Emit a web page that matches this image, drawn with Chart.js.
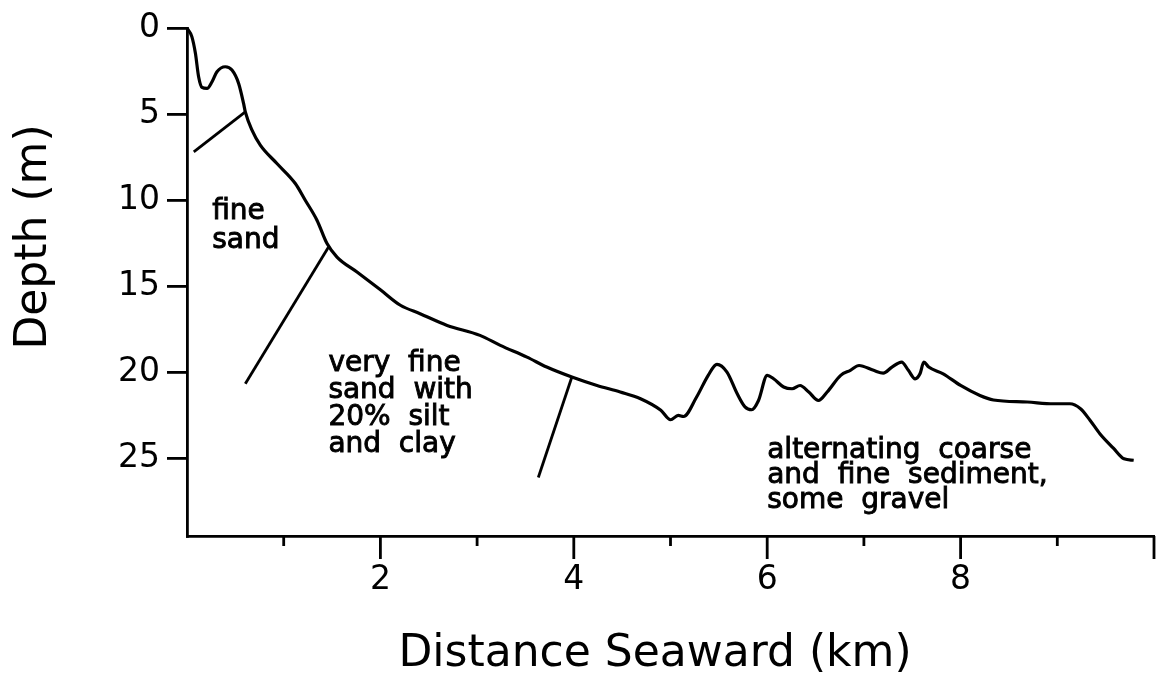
<!DOCTYPE html>
<html>
<head>
<meta charset="utf-8">
<script src="https://cdn.jsdelivr.net/npm/chart.js@4/dist/chart.umd.min.js"></script>
<style>
  html, body { margin: 0; padding: 0; background: #fff; }
  #wrap { width: 1164px; height: 685px; }
</style>
</head>
<body>
<div id="wrap"><canvas id="profile" width="1164" height="685"></canvas></div>
<script>
// profile: distance seaward (km) vs depth (m)
const distanceKm = [
  0, 0.05, 0.087, 0.12, 0.155, 0.207, 0.259, 0.31, 0.396, 0.465, 0.534, 0.585, 0.603,
  0.672, 0.758, 0.93, 1.12, 1.223, 1.344, 1.448, 1.551, 1.758, 2.0, 2.207, 2.41, 2.69,
  3.03, 3.24, 3.516, 3.72, 3.98, 4.24, 4.48, 4.69, 4.9, 5.0, 5.08, 5.135, 5.27, 5.39,
  5.48, 5.584, 5.69, 5.77, 5.84, 5.91, 6.0, 6.066, 6.17, 6.257, 6.34, 6.43, 6.53, 6.62,
  6.76, 6.86, 6.95, 7.1, 7.2, 7.29, 7.39, 7.46, 7.53, 7.58, 7.62, 7.67, 7.82, 8.0, 8.2,
  8.34, 8.69, 8.96, 9.13, 9.24, 9.34, 9.44, 9.58, 9.69, 9.79
];
const depthM = [
  0, 0.5, 1.47, 2.83, 3.45, 3.51, 3.12, 2.54, 2.25, 2.44, 3.22, 4.38, 4.87,
  5.93, 6.8, 7.87, 9.03, 10.0, 11.16, 12.52, 13.3, 14.17, 15.2, 16.1, 16.59, 17.27,
  17.85, 18.43, 19.11, 19.69, 20.27, 20.76, 21.14, 21.53, 22.2, 22.75, 22.5, 22.56, 21.43, 20.17,
  19.53, 19.98, 21.24, 22.0, 22.17, 21.63, 20.17, 20.37, 20.85, 20.95, 20.76, 21.14, 21.63, 21.14,
  20.17, 19.88, 19.6, 19.88, 20.04, 19.69, 19.4, 19.88, 20.37, 20.08, 19.4, 19.69, 20.08, 20.76, 21.34,
  21.6, 21.72, 21.82, 21.82, 22.11, 22.79, 23.56, 24.4, 25.02, 25.1
];

// boundary strokes between sediment zones [km, m] -> [km, m]
const boundaryStart = [[0.07, 7.19], [0.603, 20.66], [3.633, 26.1]];
const boundaryEnd = [[0.603, 4.87], [1.464, 12.72], [3.98, 20.27]];

// zone labels and where they sit (km, m of first line)
const zoneText = [
  ['fine', 'sand'],
  ['very  fine', 'sand  with', '20%  silt', 'and  clay'],
  ['alternating  coarse', 'and  fine  sediment,', 'some  gravel']
];
const zoneAt = [[0.26, 10.64], [1.462, 19.48], [6.0, 24.53]];

const xTickLabels = [2, 4, 6, 8];
const yTickLabels = [0, 5, 10, 15, 20, 25];
const xTitle = 'Distance Seaward (km)';
const yTitle = 'Depth (m)';

const FONT = '"DejaVu Sans", sans-serif';

const profilePts = distanceKm.map((d, i) => ({ x: d, y: depthM[i] }));
const boundarySets = boundaryStart.map((s, i) => ({
  data: [{ x: s[0], y: s[1] }, { x: boundaryEnd[i][0], y: boundaryEnd[i][1] }],
  borderColor: '#000',
  borderWidth: 2.8,
  pointRadius: 0,
  tension: 0,
  clip: false
}));

// extra drawing: km tick marks, axis titles, zone labels
const decorations = {
  id: 'decorations',
  afterDraw(chart) {
    const ctx = chart.ctx;
    const xs = chart.scales.x, ys = chart.scales.y;
    const base = chart.chartArea.bottom;
    ctx.save();
    ctx.strokeStyle = '#000';
    ctx.lineWidth = 2.8;
    for (let v = 1; v <= 10; v++) {
      const px = xs.getPixelForValue(v);
      ctx.beginPath();
      ctx.moveTo(px, base);
      ctx.lineTo(px, base + (v % 2 === 0 ? 23 : 10));
      ctx.stroke();
    }

    ctx.fillStyle = '#000';
    ctx.textBaseline = 'middle';
    ctx.font = '28px ' + FONT;
    ctx.textAlign = 'left';
    ctx.lineWidth = 0.9;
    const gaps = [29, 27, 25];
    zoneText.forEach((lines, i) => {
      const x0 = xs.getPixelForValue(zoneAt[i][0]);
      const y0 = ys.getPixelForValue(zoneAt[i][1]);
      lines.forEach((t, j) => {
        ctx.fillText(t, x0, y0 + j * gaps[i]);
        ctx.strokeText(t, x0, y0 + j * gaps[i]);
      });
    });

    ctx.font = '44px ' + FONT;
    ctx.textAlign = 'center';
    ctx.fillText(xTitle, 655, 655);
    ctx.translate(35, 237);
    ctx.rotate(-Math.PI / 2);
    ctx.fillText(yTitle, 0, 0);
    ctx.restore();
  }
};

new Chart(document.getElementById('profile'), {
  type: 'line',
  data: {
    datasets: [{
      data: profilePts,
      borderColor: '#000',
      borderWidth: 3.2,
      pointRadius: 0,
      cubicInterpolationMode: 'monotone',
      clip: false
    }, ...boundarySets]
  },
  options: {
    responsive: false,
    animation: false,
    events: [],
    layout: { padding: { left: 0, top: 28, right: 10, bottom: 0 } },
    plugins: { legend: { display: false }, tooltip: { enabled: false } },
    scales: {
      x: {
        type: 'linear',
        min: 0,
        max: 10,
        afterFit: s => { s.height = 149; },
        border: { display: true, color: '#000', width: 2.8 },
        grid: { display: false, drawTicks: true, tickLength: 22 },
        ticks: {
          stepSize: 2,
          autoSkip: false,
          maxRotation: 0,
          padding: 3,
          color: '#000',
          font: { family: FONT, size: 33 },
          callback: v => xTickLabels.includes(v) ? String(v) : ''
        }
      },
      y: {
        type: 'linear',
        reverse: true,
        min: 0,
        max: 29.5,
        afterFit: s => { s.width = 187; },
        border: { display: true, color: '#000', width: 2.8 },
        grid: {
          display: true,
          drawOnChartArea: false,
          drawTicks: true,
          tickLength: 20,
          lineWidth: 2.8,
          color: c => yTickLabels.includes(c.tick.value) ? '#000' : 'rgba(0,0,0,0)'
        },
        ticks: {
          stepSize: 5,
          autoSkip: false,
          padding: 7,
          color: '#000',
          font: { family: FONT, size: 33 },
          callback: v => yTickLabels.includes(v) ? String(v) : ''
        }
      }
    }
  },
  plugins: [decorations]
});
</script>
</body>
</html>
